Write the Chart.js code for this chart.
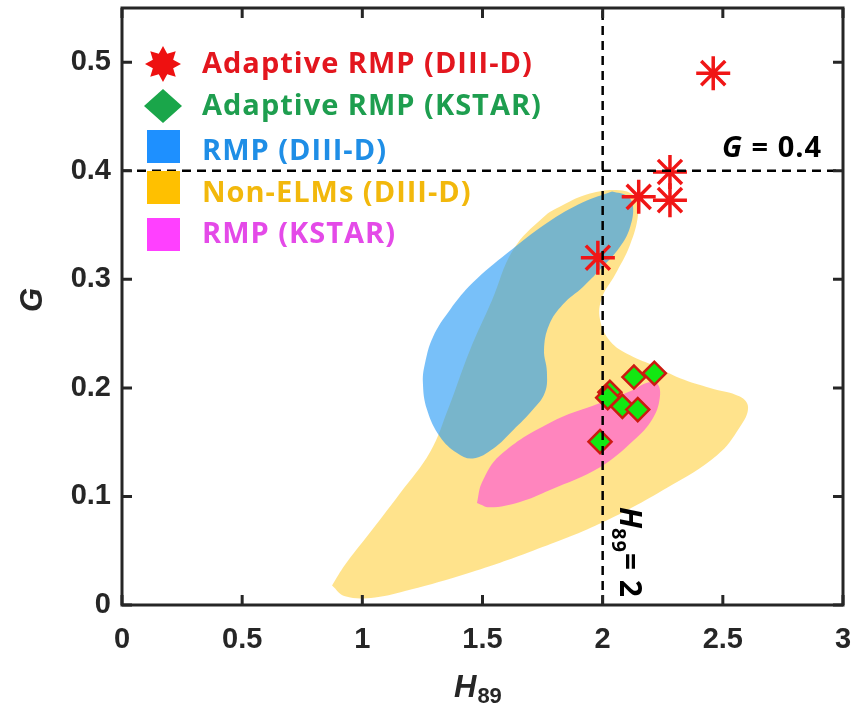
<!DOCTYPE html>
<html>
<head>
<meta charset="utf-8">
<script src="https://cdn.jsdelivr.net/npm/chart.js@4.4.1/dist/chart.umd.min.js"></script>
<style>
  html, body { margin: 0; padding: 0; background: #fff; }
</style>
</head>
<body>
<canvas id="chart" width="851" height="705"></canvas>
<script>
// axis ticks
var xTicks = [0, 0.5, 1, 1.5, 2, 2.5, 3];
var yTicks = [0, 0.1, 0.2, 0.3, 0.4, 0.5];

var seriesLabels = ['Adaptive RMP (DIII-D)', 'Adaptive RMP (KSTAR)', 'RMP (DIII-D)', 'Non-ELMs (DIII-D)', 'RMP (KSTAR)'];

// adaptive RMP points
var diiidAdaptiveX = [2.46, 2.28, 2.28, 2.15, 1.98];
var diiidAdaptiveY = [0.490, 0.399, 0.373, 0.376, 0.320];
var kstarAdaptiveX = [2.13, 2.215, 2.03, 2.021, 2.082, 2.146, 1.989];
var kstarAdaptiveY = [0.210, 0.2135, 0.196, 0.191, 0.183, 0.180, 0.1505];

// region outlines (H89, G)
var rmpDiiidX = [2.039, 2.101, 2.126, 2.114, 2.072, 1.989, 1.918, 1.835, 1.777, 1.756, 1.768, 1.760, 1.710, 1.627, 1.544, 1.460, 1.394, 1.323, 1.269, 1.252, 1.261, 1.294, 1.365, 1.460, 1.602, 1.768, 1.918, 2.039];
var rmpDiiidY = [0.381, 0.377, 0.368, 0.348, 0.330, 0.309, 0.293, 0.277, 0.258, 0.235, 0.215, 0.196, 0.180, 0.161, 0.144, 0.135, 0.140, 0.155, 0.180, 0.205, 0.223, 0.247, 0.272, 0.297, 0.324, 0.352, 0.371, 0.381];

var nonElmX = [0.874, 0.928, 1.053, 1.198, 1.436, 1.710, 1.989, 2.268, 2.476, 2.571, 2.605, 2.571, 2.447, 2.322, 2.218, 2.114, 2.031, 1.989, 1.997, 2.051, 2.114, 2.147, 2.139, 2.072, 1.947, 1.831, 1.752, 1.627, 1.540, 1.448, 1.356, 1.282, 1.157, 1.019, 0.928, 0.874];
var nonElmY = [0.018, 0.008, 0.007, 0.014, 0.029, 0.050, 0.075, 0.108, 0.138, 0.164, 0.182, 0.192, 0.200, 0.209, 0.220, 0.230, 0.243, 0.263, 0.283, 0.304, 0.332, 0.359, 0.375, 0.382, 0.379, 0.368, 0.357, 0.327, 0.281, 0.235, 0.180, 0.141, 0.103, 0.063, 0.037, 0.018];

var rmpKstarX = [1.477, 1.531, 1.656, 1.781, 1.989, 2.126, 2.209, 2.239, 2.222, 2.176, 2.126, 1.989, 1.781, 1.573, 1.498, 1.477];
var rmpKstarY = [0.094, 0.090, 0.095, 0.106, 0.127, 0.151, 0.172, 0.194, 0.205, 0.204, 0.198, 0.186, 0.168, 0.138, 0.113, 0.094];

var gLimit = 0.4;
var hLimit = 2;

function pts(xs, ys) {
    return xs.map(function (x, i) { return {x: x, y: ys[i]}; });
}

var legendStyle = [
    {marker: 'star', fill: '#ee1111', text: '#e3161e'},
    {marker: 'diamond', fill: '#1aa64a', text: '#1e9e4f'},
    {marker: 'square', fill: '#1e90ff', text: '#1f8ee6'},
    {marker: 'square', fill: '#ffc000', text: '#f2b80c'},
    {marker: 'square', fill: '#ff40ff', text: '#e44ae8'}
];

function noPad(s) {
    s.paddingTop = 0; s.paddingBottom = 0; s.paddingLeft = 0; s.paddingRight = 0;
}

var frame = {
    id: 'frame',
    afterDatasetsDraw: function (chart) {
        var ctx = chart.ctx, a = chart.chartArea;
        var xs = chart.scales.x, ys = chart.scales.y;
        ctx.save();
        ctx.strokeStyle = '#262626';
        ctx.lineWidth = 3;
        ctx.beginPath();
        xTicks.forEach(function (v) {
            var p = xs.getPixelForValue(v);
            ctx.moveTo(p, a.bottom); ctx.lineTo(p, a.bottom - 10);
            ctx.moveTo(p, a.top); ctx.lineTo(p, a.top + 10);
        });
        yTicks.forEach(function (v) {
            var p = ys.getPixelForValue(v);
            ctx.moveTo(a.left, p); ctx.lineTo(a.left + 10, p);
            ctx.moveTo(a.right, p); ctx.lineTo(a.right - 10, p);
        });
        ctx.stroke();
        ctx.strokeRect(a.left, a.top, a.right - a.left, a.bottom - a.top);

        // axis titles
        ctx.fillStyle = '#262626';
        ctx.textBaseline = 'alphabetic';
        ctx.textAlign = 'left';
        ctx.font = 'italic bold 31px "Liberation Sans"';
        ctx.fillText('H', 454, 697);
        var tw = ctx.measureText('H').width;
        ctx.font = 'bold 22px "Liberation Sans"';
        ctx.fillText('89', 454 + tw + 1, 703);
        ctx.save();
        ctx.translate(42, 300);
        ctx.rotate(-Math.PI / 2);
        ctx.font = 'italic bold 31px "Liberation Sans"';
        ctx.textAlign = 'center';
        ctx.fillText('G', 0, 0);
        ctx.restore();

        // reference line labels
        ctx.fillStyle = '#000';
        ctx.letterSpacing = '1px';
        var gy = ys.getPixelForValue(gLimit) - 14;
        ctx.font = 'italic bold 29px "Open Sans"';
        ctx.fillText('G', 722, gy);
        var w = ctx.measureText('G').width;
        ctx.font = 'bold 29px "Open Sans"';
        ctx.fillText(' = 0.4', 722 + w, gy);

        ctx.save();
        ctx.translate(xs.getPixelForValue(hLimit) + 17, 507);
        ctx.rotate(Math.PI / 2);
        ctx.font = 'italic bold 30px "Open Sans"';
        ctx.fillText('H', 0, 0);
        var hw = ctx.measureText('H').width;
        ctx.font = 'bold 20px "Open Sans"';
        ctx.fillText('89', hw - 1, 8);
        var sw = ctx.measureText('89').width;
        ctx.font = 'bold 30px "Open Sans"';
        ctx.fillText('= 2', hw + sw - 1, 0);
        ctx.restore();

        // legend
        var rows = [73, 115, 160, 202, 243];
        var mid = [64, 106, 146, 187, 234];
        var mx = 163;
        legendStyle.forEach(function (s, i) {
            ctx.fillStyle = s.fill;
            ctx.beginPath();
            if (s.marker === 'star') {
                for (var k = 0; k < 16; k++) {
                    var r = k % 2 === 0 ? 18 : 11;
                    var ang = -Math.PI / 2 + k * Math.PI / 8;
                    var px = mx + r * Math.cos(ang), py = mid[i] + r * Math.sin(ang);
                    if (k === 0) ctx.moveTo(px, py); else ctx.lineTo(px, py);
                }
                ctx.closePath();
            } else if (s.marker === 'diamond') {
                ctx.moveTo(mx - 19, mid[i]);
                ctx.lineTo(mx, mid[i] - 17);
                ctx.lineTo(mx + 19, mid[i]);
                ctx.lineTo(mx, mid[i] + 17);
                ctx.closePath();
            } else {
                ctx.rect(mx - 16, mid[i] - 16, 33, 33);
            }
            ctx.fill();
            ctx.fillStyle = s.text;
            ctx.font = 'bold 29px "Open Sans"';
            ctx.fillText(chart.data.datasets[i].label, 202, rows[i]);
        });
        ctx.restore();
    }
};

var ctx = document.getElementById('chart').getContext('2d');
var chart = new Chart(ctx, {
    type: 'scatter',
    data: {
        datasets: [
            {
                label: seriesLabels[0],
                data: pts(diiidAdaptiveX, diiidAdaptiveY),
                pointStyle: 'star',
                pointRadius: 17,
                borderColor: '#f01616',
                borderWidth: 3.5,
                order: 0
            },
            {
                label: seriesLabels[1],
                data: pts(kstarAdaptiveX, kstarAdaptiveY),
                pointStyle: 'rectRot',
                pointRadius: 11.5,
                backgroundColor: '#12e812',
                borderColor: '#cc1a10',
                borderWidth: 2.5,
                order: 1
            },
            {
                label: seriesLabels[2],
                data: pts(rmpDiiidX, rmpDiiidY),
                showLine: true,
                tension: 0.4,
                fill: 'shape',
                pointRadius: 0,
                borderWidth: 0,
                borderColor: 'rgba(0,0,0,0)',
                backgroundColor: 'rgba(30,150,245,0.6)',
                order: 3
            },
            {
                label: seriesLabels[3],
                data: pts(nonElmX, nonElmY),
                showLine: true,
                tension: 0.4,
                fill: 'shape',
                pointRadius: 0,
                borderWidth: 0,
                borderColor: 'rgba(0,0,0,0)',
                backgroundColor: 'rgba(255,192,0,0.45)',
                order: 4
            },
            {
                label: seriesLabels[4],
                data: pts(rmpKstarX, rmpKstarY),
                showLine: true,
                tension: 0.4,
                fill: 'shape',
                pointRadius: 0,
                borderWidth: 0,
                borderColor: 'rgba(0,0,0,0)',
                backgroundColor: 'rgba(255,40,240,0.5)',
                order: 2
            },
            {
                label: 'G limit',
                data: [{x: 0, y: gLimit}, {x: 3, y: gLimit}],
                showLine: true,
                pointRadius: 0,
                borderColor: '#000',
                borderWidth: 2.5,
                borderDash: [9, 6],
                order: -1
            },
            {
                label: 'H limit',
                data: [{x: hLimit, y: 0}, {x: hLimit, y: 0.55}],
                showLine: true,
                pointRadius: 0,
                borderColor: '#000',
                borderWidth: 2.5,
                borderDash: [9, 6],
                order: -1
            }
        ]
    },
    options: {
        responsive: false,
        animation: false,
        devicePixelRatio: 1,
        layout: {autoPadding: false, padding: {left: 0, right: 8, top: 8, bottom: 0}},
        plugins: {
            legend: {display: false},
            tooltip: {enabled: false}
        },
        scales: {
            x: {
                type: 'linear',
                min: 0,
                max: 3,
                grid: {display: false, drawTicks: false},
                border: {display: false},
                afterBuildTicks: function (s) { s.ticks = xTicks.map(function (v) { return {value: v}; }); },
                afterFit: function (s) { s.height = 100; noPad(s); },
                ticks: {
                    padding: 18,
                    color: '#262626',
                    font: {family: 'Liberation Sans', size: 29, weight: 'bold'},
                    callback: function (v) { return String(+v.toFixed(2)); }
                }
            },
            y: {
                type: 'linear',
                min: 0,
                max: 0.55,
                grid: {display: false, drawTicks: false},
                border: {display: false},
                afterBuildTicks: function (s) { s.ticks = yTicks.map(function (v) { return {value: v}; }); },
                afterFit: function (s) { s.width = 122; noPad(s); },
                ticks: {
                    padding: 11,
                    color: '#262626',
                    font: {family: 'Liberation Sans', size: 29, weight: 'bold'},
                    callback: function (v) { return String(+v.toFixed(2)); }
                }
            }
        }
    },
    plugins: [frame]
});
</script>
</body>
</html>
